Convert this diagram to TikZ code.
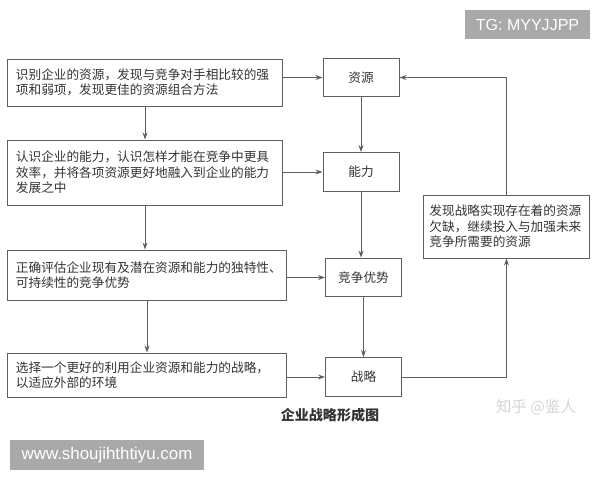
\documentclass[tikz,border=0pt]{standalone}
\usepackage{fontspec}
\setmainfont{Noto Sans CJK SC}
\newfontfamily\wmfont{Liberation Sans}
\usetikzlibrary{arrows.meta,positioning}
\definecolor{linegray}{HTML}{5E5E5E}
\definecolor{textgray}{HTML}{333333}
\definecolor{markgray}{HTML}{A9A9A9}

\begin{document}
\begin{tikzpicture}[x=0.025cm, y=-0.025cm,
  box/.style={draw=linegray, line width=0.7pt, text=textgray, font=\fontsize{9}{11}\selectfont},
  descbox/.style={box, align=left, inner xsep=0.2cm, text width=#1},
  keybox/.style={box, minimum width=1.9cm, minimum height=0.97cm},
  flow/.style={-{Stealth[length=5pt,width=3.5pt]}, draw=linegray, line width=0.7pt},
  mark/.style={fill=markgray, text=white, font=\wmfont\fontsize{#1}{#1}\selectfont}]
  \useasboundingbox (0,0) rectangle (600,480);
  % left column: what the firm has to do
  \node[descbox=6.45cm, minimum height=1.175cm] (idres) at (145,82.5)
    {识别企业的资源，发现与竞争对手相比较的强\\项和弱项，发现更佳的资源组合方法};
  \node[descbox=6.45cm, minimum height=1.625cm] (idcap) at (145,172.5)
    {认识企业的能力，认识怎样才能在竞争中更具\\效率，并将各项资源更好地融入到企业的能力\\发展之中};
  \node[descbox=6.55cm, minimum height=1.25cm] (evadv) at (147,275)
    {正确评估企业现有及潜在资源和能力的独特性、\\可持续性的竞争优势};
  \node[descbox=6.55cm, minimum height=1.1cm] (chstr) at (147,375)
    {选择一个更好的利用企业资源和能力的战略，\\以适应外部的环境};
  % right column: the chain
  \node[keybox] (res) at (361,77.5) {资源};
  \node[keybox] (cap) at (361,172) {能力};
  \node[keybox] (adv) at (363.5,277.5) {竞争优势};
  \node[keybox] (str) at (363.5,377) {战略};
  \node[descbox=3.85cm, inner xsep=0.16cm, minimum height=1.575cm] (fill) at (506.5,226.5)
    {发现战略实现存在着的资源\\欠缺，继续投入与加强未来\\竞争所需要的资源};
  % connectors
  \draw[flow] (idres) -- (idcap);
  \draw[flow] (idcap) -- (idcap |- evadv.north);
  \draw[flow] (evadv) -- (evadv |- chstr.north);
  \draw[flow] (idres.east |- res.west) -- (res.west);
  \draw[flow] (idcap.east |- cap.west) -- (cap.west);
  \draw[flow] (evadv.east |- adv.west) -- (adv.west);
  \draw[flow] (chstr.east |- str.west) -- (str.west);
  \draw[flow] (res) -- (cap);
  \draw[flow] (cap.south) -- (cap.south |- adv.north);
  \draw[flow] (adv) -- (str);
  \draw[flow] (str.east) -| (fill.south);
  \draw[flow] (fill.north) |- (res.east);
  % caption and marks
  \node[text=textgray, font=\fontsize{10}{12}\selectfont\bfseries] (title) at (330,415) {企业战略形成图};
  \node[text=black!17, font=\fontsize{11}{13}\selectfont] (zhihu) at (536,407) {知乎 @鉴人};
  \node[mark=11.4, minimum width=3.125cm, minimum height=0.725cm] (tg) at (527.5,24.5) {TG: MYYJJPP};
  \node[mark=12, minimum width=4.85cm, minimum height=0.75cm] (site) at (107,455) {www.shoujihthtiyu.com};
\end{tikzpicture}
\end{document}
